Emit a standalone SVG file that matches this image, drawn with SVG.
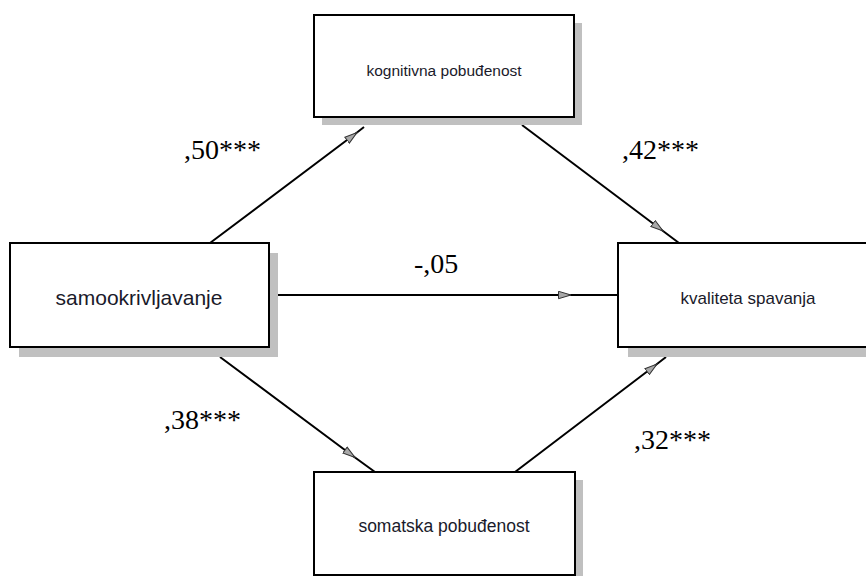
<svg xmlns="http://www.w3.org/2000/svg" width="866" height="576" viewBox="0 0 866 576">
<style>
.shadow{fill:#c0c0c0;stroke:none}
.box{fill:#fff;stroke:#000;stroke-width:2}
.nt{font-family:"Liberation Sans",Arial,sans-serif;fill:#1a1a2a;text-anchor:middle}
.conn{fill:none;stroke:#000;stroke-width:2;marker-mid:url(#arr)}
.lbl{font-family:"Liberation Serif","Times New Roman",serif;font-size:28px;fill:#000}
</style>
<defs>
<marker id="arr" markerUnits="userSpaceOnUse" viewBox="0 0 14 9" refX="13" refY="4.5" markerWidth="14" markerHeight="9" orient="auto">
<path d="M0.5,0.8 L13,4.5 L0.5,8.2 z" fill="#a8a8a8" stroke="#333" stroke-width="1"/>
</marker>
</defs>
<rect width="866" height="576" fill="#fff"/>
<g id="connectors">
<path class="conn" d="M210,243 L357,132.5 L364,127"/>
<path class="conn" d="M522,125 L663,231 L679,243"/>
<path class="conn" d="M278,295 L571,295 L618,295"/>
<path class="conn" d="M220,357 L355,457.5 L375,472"/>
<path class="conn" d="M515,472 L657,364 L666,357"/>
</g>
<g id="kognitivna">
<rect class="shadow" x="322" y="23" width="260" height="102"/>
<rect class="box" x="314" y="15" width="260" height="102"/>
<text class="nt" x="444" y="76" font-size="15.5">kognitivna pobuđenost</text>
</g>
<g id="samookrivljavanje">
<rect class="shadow" x="19" y="253" width="259" height="104"/>
<rect class="box" x="10" y="243" width="259" height="104"/>
<text class="nt" x="139" y="305" font-size="21">samookrivljavanje</text>
</g>
<g id="kvaliteta">
<rect class="shadow" x="628" y="253" width="260" height="104"/>
<rect class="box" x="618" y="243" width="260" height="104"/>
<text class="nt" x="748" y="304" font-size="17">kvaliteta spavanja</text>
</g>
<g id="somatska">
<rect class="shadow" x="323" y="480" width="260" height="110"/>
<rect class="box" x="314" y="472" width="261" height="103"/>
<text class="nt" x="444" y="532" font-size="17.5">somatska pobuđenost</text>
</g>
<g id="labels">
<text class="lbl" x="184" y="159">,50***</text>
<text class="lbl" x="622" y="159">,42***</text>
<text class="lbl" x="414" y="273">-,05</text>
<text class="lbl" x="164" y="429">,38***</text>
<text class="lbl" x="634" y="449">,32***</text>
</g>
</svg>
